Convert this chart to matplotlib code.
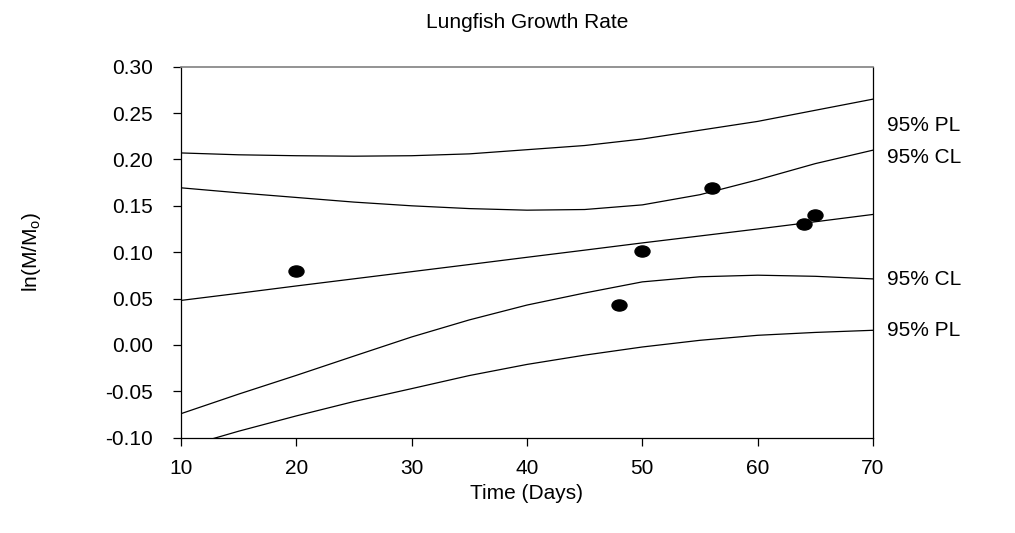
import matplotlib
matplotlib.use("Agg")
import matplotlib.pyplot as plt
from matplotlib.markers import MarkerStyle
from matplotlib.transforms import Affine2D

plt.rcParams['font.family'] = ['Liberation Sans', 'DejaVu Sans']
plt.rcParams['mathtext.fontset'] = 'custom'
plt.rcParams['mathtext.rm'] = 'Liberation Sans'
plt.rcParams['mathtext.it'] = 'Liberation Sans'

# Observed data
days = [20, 48, 50, 56, 64, 65]
growth = [0.080, 0.043, 0.101, 0.169, 0.130, 0.140]

# Curves
curve_x = [10, 15, 20, 25, 30, 35, 40, 45, 50, 55, 60, 65, 70]
upper_pl = [0.207, 0.205, 0.204, 0.2035, 0.204, 0.206, 0.2105, 0.215, 0.222, 0.2315, 0.241, 0.253, 0.265]
upper_cl = [0.1694, 0.164, 0.159, 0.154, 0.150, 0.147, 0.1453, 0.146, 0.151, 0.162, 0.178, 0.1955, 0.210]
regress = [0.048, 0.0557, 0.0636, 0.0713, 0.079, 0.0867, 0.0945, 0.1022, 0.110, 0.1175, 0.125, 0.1328, 0.1407]
lower_cl = [-0.0741, -0.053, -0.0328, -0.012, 0.0086, 0.027, 0.043, 0.056, 0.068, 0.0735, 0.0752, 0.074, 0.0712]
lower_pl = [-0.111, -0.093, -0.0765, -0.061, -0.0471, -0.033, -0.021, -0.011, -0.0022, 0.005, 0.0104, 0.0135, 0.0158]

band_labels = ["95% PL", "95% CL", "95% CL", "95% PL"]
band_label_y = [0.237, 0.2025, 0.0708, 0.0158]

x_ticks = [10, 20, 30, 40, 50, 60, 70]
y_ticks = [-0.10, -0.05, 0.00, 0.05, 0.10, 0.15, 0.20, 0.25, 0.30]

fig = plt.figure(figsize=(10.15, 5.33), dpi=100)
ax = fig.add_axes([0.1783, 0.1788, 0.8601 - 0.1783, 0.8749 - 0.1788])

for ys in (upper_pl, upper_cl, regress, lower_cl, lower_pl):
    ax.plot(curve_x, ys, color='black', lw=0.9)

ell = MarkerStyle('o', transform=Affine2D().scale(1.35, 1.0))
ax.plot(days, growth, linestyle='none', marker=ell, markersize=8,
        color='black', zorder=5)

ax.set_xlim(10, 70)
ax.set_ylim(-0.10, 0.30)
ax.set_xticks(x_ticks)
ax.set_xticklabels([f"{v}" for v in x_ticks])
ax.set_yticks(y_ticks)
ax.set_yticklabels([f"{v:.2f}" for v in y_ticks])
ax.tick_params(direction='out', length=6, width=0.9, labelsize=15)
ax.tick_params(axis='y', pad=14)
ax.tick_params(axis='x', pad=9)

for side in ('left', 'bottom', 'right'):
    ax.spines[side].set_linewidth(0.9)
    ax.spines[side].set_color('black')
ax.spines['top'].set_linewidth(1.2)
ax.spines['top'].set_color('#808080')

for lab, yv in zip(band_labels, band_label_y):
    ax.text(71.2, yv, lab, fontsize=15, va='center', ha='left', clip_on=False)

ax.set_title("Lungfish Growth Rate", fontsize=15, pad=28)
ax.set_xlabel("Time (Days)", fontsize=15, labelpad=5)
ax.set_ylabel(r"ln(M/M$_{\rm o}$)", fontsize=15, labelpad=45)

fig.savefig("out.png", dpi=100)
